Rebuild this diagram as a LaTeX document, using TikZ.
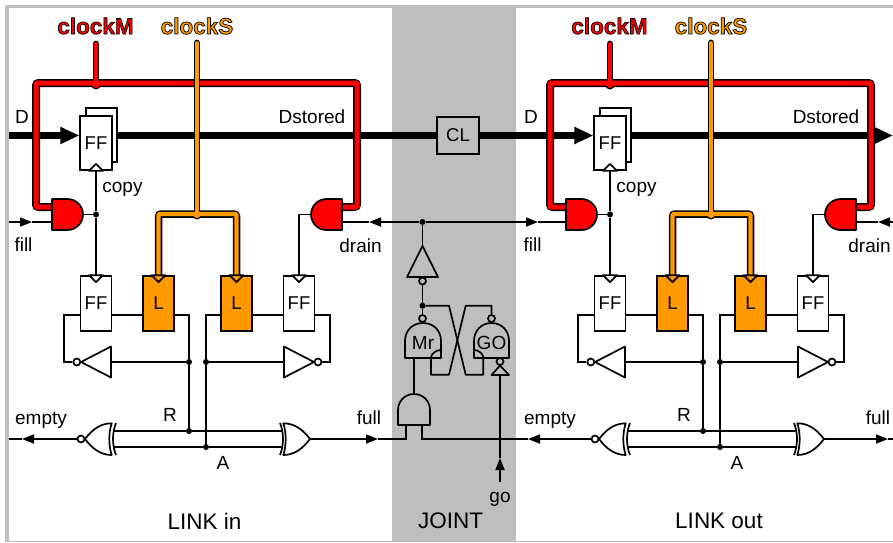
\documentclass[tikz,border=0pt]{standalone}
\usepackage{fontspec}
\setmainfont{Liberation Sans}
\usetikzlibrary{arrows.meta,calc}
\definecolor{panelgray}{HTML}{BEBEBE}
\definecolor{busorange}{HTML}{FF9900}
\pgfdeclarelayer{panel}
\pgfdeclarelayer{thick}
\pgfsetlayers{panel,thick,main}
\tikzset{
  wire/.style={draw=black,line width=1.7pt},
  gate/.style={draw=black,line width=1.7pt,line join=round},
  box/.style={draw=black,line width=1.7pt,fill=white,minimum width=31pt,minimum height=55pt,inner sep=0pt,font=\fontsize{18.5}{20}\selectfont},
  lbl/.style={inner sep=0pt,font=\fontsize{19}{21}\selectfont},
  big/.style={inner sep=0pt,font=\fontsize{22.5}{24}\selectfont},
  dot/.style={circle,fill=black,draw=none,inner sep=0pt,minimum size=6pt},
  bubble/.style={circle,draw=black,line width=1.7pt,fill=white,inner sep=0pt,minimum size=7pt},
  head/.style={-{Triangle[length=12pt,width=9pt]}},
  bigtip/.style={-{Triangle[length=19pt,width=16pt]}},
  databar/.style={draw=black,line width=7pt},
  redout/.style={draw=black,line width=8pt,rounded corners=2.5pt},
  redin/.style={draw=red,line width=5pt,rounded corners=1pt},
  orangeout/.style={draw=black,line width=7.5pt,rounded corners=2.5pt},
  orangein/.style={draw=busorange,line width=4.2pt,rounded corners=1pt},
  clk/.style={inner sep=0pt,font=\bfseries\fontsize{22.5}{26}\selectfont},
}
\newcommand{\clocktext}[1]{\special{pdf:code 0 0 0 RG 2 Tr 0.7 w}#1\special{pdf:code 0 Tr}}
% #1 prefix, #2 offset of the block, #3 offset of labels at the edges
\newcommand{\linkblock}[3]{
\begin{scope}[shift={(#2,0)}]
  % boxes
  \node[box,minimum width=31pt,minimum height=54pt] (#1-ffback) at (101.5,135) {};
  \node[box,minimum width=31.5pt,minimum height=54pt] (#1-fftop) at (96,143) {FF};
  \node[box] (#1-ffl) at (96,303.5) {FF};
  \node[box,fill=busorange] (#1-ll) at (158.5,303.5) {L};
  \node[box,fill=busorange] (#1-lr) at (236.5,303.5) {L};
  \node[box] (#1-ffr) at (299,303.5) {FF};
  \coordinate (#1-my) at (0,315);
  \coordinate (#1-iy) at (0,362);
  \coordinate (#1-ry) at (0,431);
  \coordinate (#1-ay) at (0,447);
  \coordinate (#1-oy) at (0,439);
  % red bus
  \coordinate (#1-redl) at (52,207);
  \coordinate (#1-redr) at (342,207);
  \coordinate (#1-mtop) at (96,44);
  \coordinate (#1-mj) at (96,83);
  \draw[redout] (#1-redl) -- (36,207) -- (36,83) -- (357,83) -- (357,207) -- (#1-redr);
  \draw[draw=black,line width=6.8pt,line cap=round] (#1-mtop) -- (#1-mj);
  \node[circle,fill=black,inner sep=0pt,minimum size=10pt] (#1-mdot) at (96,84.5) {};
  \draw[redin] (#1-redl) -- (36,207) -- (36,83) -- (357,83) -- (357,207) -- (#1-redr);
  \draw[draw=red,line width=3.6pt,line cap=round] (#1-mtop) -- (#1-mj);
  \fill[red] (#1-mdot) circle (3.6pt);
  % orange bus
  \coordinate (#1-stop) at (197,43);
  \coordinate (#1-sj) at (197,214);
  \coordinate (#1-sl) at ($(#1-ll.north)+(0,2)$);
  \coordinate (#1-sr) at ($(#1-lr.north)+(0,2)$);
  \draw[draw=black,line width=6.8pt,line cap=round] (#1-stop) -- (#1-sj);
  \draw[orangeout] (#1-sl) -- (158.5,214) -- (236.5,214) -- (#1-sr);
  \node[circle,fill=black,inner sep=0pt,minimum size=10pt] (#1-sdot) at (197,214.5) {};
  \draw[orangein] (#1-sl) -- (158.5,214) -- (236.5,214) -- (#1-sr);
  \draw[draw=busorange,line width=3.6pt,line cap=round] (#1-stop) -- (#1-sj);
  \fill[busorange] (#1-sdot) circle (3.6pt);
  % AND gates
  \draw[gate,fill=red] (52,199) -- (67.5,199) .. controls (76,199) and (83,206) .. (83,214.5)
     .. controls (83,223) and (76,230) .. (67.5,230) -- (52,230) -- cycle;
  \draw[gate,fill=red] (342,199) -- (326.5,199) .. controls (318,199) and (311,206) .. (311,214.5)
     .. controls (311,223) and (318,230) .. (326.5,230) -- (342,230) -- cycle;
  \coordinate (#1-fillin) at (52,222);
  \coordinate (#1-drainin) at (342,222);
  \coordinate (#1-fillout) at (83,214.5);
  \coordinate (#1-drainout) at (311,214.5);
  \node[dot] (#1-copy) at (96,214.5) {};
  % clock triangles
  \draw[wire] (#1-fillout) -- (#1-copy);
  \draw[wire] (#1-copy) -- (#1-fftop.south);
  \draw[wire] (#1-copy) -- (#1-ffl.north);
  \draw[wire] (#1-drainout) -- (#1-ffr.north |- #1-drainout) -- (#1-ffr.north);
  \draw[gate,fill=white] ($(#1-fftop.south)+(-7,0)$) -- ($(#1-fftop.south)+(0,-7)$) -- ($(#1-fftop.south)+(7,0)$) -- cycle;
  \draw[gate,fill=white] ($(#1-ffl.north)+(-7,0)$) -- ($(#1-ffl.north)+(0,7)$) -- ($(#1-ffl.north)+(7,0)$) -- cycle;
  \draw[gate,fill=white] ($(#1-ffr.north)+(-7,0)$) -- ($(#1-ffr.north)+(0,7)$) -- ($(#1-ffr.north)+(7,0)$) -- cycle;
  \draw[gate,fill=busorange] ($(#1-ll.north)+(-7,0)$) -- ($(#1-ll.north)+(0,7)$) -- ($(#1-ll.north)+(7,0)$) -- cycle;
  \draw[gate,fill=busorange] ($(#1-lr.north)+(-7,0)$) -- ($(#1-lr.north)+(0,7)$) -- ($(#1-lr.north)+(7,0)$) -- cycle;
  % inverters
  \draw[gate,fill=white] (111,346.5) -- (81,362) -- (111,377.5) -- cycle;
  \draw[gate,fill=white] (284,346.5) -- (314,362) -- (284,377.5) -- cycle;
  \node[bubble] (#1-bl) at (76.8,362) {};
  \node[bubble] (#1-br) at (318,362) {};
  \coordinate (#1-il) at (111,362);
  \coordinate (#1-ir) at (284,362);
  \node[dot] (#1-dl) at (189,362) {};
  \node[dot] (#1-dr) at (206,362) {};
  \node[dot] (#1-dR) at (189,431) {};
  \node[dot] (#1-dA) at (206,447) {};
  \draw[wire] (#1-ffl.west |- #1-my) -- (64,315) -- (64,362) -- (#1-bl);
  \draw[wire] (#1-ffl.east |- #1-my) -- (#1-ll.west |- #1-my);
  \draw[wire] (#1-ll.east |- #1-my) -- (189,315) -- (#1-dl);
  \draw[wire] (#1-dl) -- (#1-dR);
  \draw[wire] (#1-dl) -- (#1-il);
  \draw[wire] (#1-lr.west |- #1-my) -- (206,315) -- (#1-dr);
  \draw[wire] (#1-dr) -- (#1-dA);
  \draw[wire] (#1-dr) -- (#1-ir);
  \draw[wire] (#1-lr.east |- #1-my) -- (#1-ffr.west |- #1-my);
  \draw[wire] (#1-ffr.east |- #1-my) -- (330,315) -- (330,362) -- (#1-br);
  % XOR gates
  \coordinate (#1-xl) at (113,0);
  \coordinate (#1-xr) at (282.5,0);
  \draw[wire] (#1-xl |- #1-ry) -- (#1-dR) -- (#1-xr |- #1-ry);
  \draw[wire] (#1-xl |- #1-ay) -- (#1-dA) -- (#1-xr |- #1-ay);
  \draw[gate,fill=white] (111.7,423.3) .. controls (100,423.3) and (92,430) .. (85,439)
     .. controls (92,448) and (100,455) .. (111.7,455)
     .. controls (108.5,445) and (108.5,433) .. (111.7,423.3) -- cycle;
  \draw[gate] (116,423) .. controls (112,433) and (112,445) .. (116,455);
  \draw[gate,fill=white] (283.3,423.3) .. controls (295,423.3) and (303,430) .. (310,439)
     .. controls (303,448) and (295,455) .. (283.3,455)
     .. controls (286.5,445) and (286.5,433) .. (283.3,423.3) -- cycle;
  \draw[gate] (280,423) .. controls (284,433) and (284,445) .. (280,455);
  \node[bubble] (#1-bx) at (81,439) {};
  \coordinate (#1-xout) at (310,439);
  % labels
  \node[lbl] (#1-ldst) at (312,116.5) {Dstored};
  \node[lbl] (#1-lcopy) at (122.5,189.5) {copy};
  \node[lbl] (#1-lR) at (170,415) {R};
  \node[lbl] (#1-lA) at (223,463) {A};
  \node[clk,text=red] (#1-lm) at (95.5,26) {\clocktext{clockM}};
  \node[clk,text=busorange] (#1-ls) at (197,26) {\clocktext{clockS}};
\end{scope}
\begin{scope}[shift={(#3,0)}]
  \node[lbl] (#1-lD) at (22,116.5) {D};
  \node[lbl] (#1-lfill) at (23.5,245) {fill};
  \node[lbl] (#1-ldrain) at (360.5,245.5) {drain};
  \node[lbl] (#1-lempty) at (41,420.5) {empty};
  \node[lbl] (#1-lfull) at (369,418) {full};
\end{scope}
}
\begin{document}
\begin{tikzpicture}[x=1pt,y=-1pt]
\useasboundingbox (0,0) rectangle (893,542);
\clip (0,0) rectangle (893,542);
\begin{pgfonlayer}{panel}
  \fill[white] (0,0) rectangle (893,542);
  \fill[panelgray] (5,4.5) rectangle (893,542);
  \fill[white] (9.2,8.3) rectangle (893,540.7);
  \fill[panelgray] (391.5,8) rectangle (516,541);
\end{pgfonlayer}

\linkblock{a}{0}{0}
\linkblock{b}{514}{509}

% joint
\node[draw=black,line width=1.7pt,fill=panelgray,minimum width=42pt,minimum height=37pt,inner sep=0pt,font=\fontsize{18.5}{20}\selectfont] (cl) at (458,135.5) {CL};
\coordinate (din) at (9,135.5);
\coordinate (dend) at (893,135.5);
\begin{pgfonlayer}{thick}
  \draw[databar,bigtip] (din) -- (a-fftop.west |- din);
  \draw[databar] (a-ffback.east |- din) -- (cl.west |- din);
  \draw[databar,bigtip] (cl.east |- din) -- (b-fftop.west |- din);
  \draw[databar,bigtip] (b-ffback.east |- din) -- (dend);
\end{pgfonlayer}

% AND below the Muller pair
\draw[gate] (398,425) -- (398,410) .. controls (398,401) and (405,394) .. (414,394)
   .. controls (423,394) and (430,401) .. (430,410) -- (430,425) -- cycle;
\coordinate (andtop) at (414,394);
\coordinate (andl) at (406,425);
\coordinate (andr) at (422,425);
% Mr and GO
\draw[gate] (405,358) -- (405,341) .. controls (405,331) and (412,323) .. (423,323)
   .. controls (434,323) and (441,331) .. (441,341) -- (441,358) -- cycle;
\draw[gate] (431,357.5) .. controls (431,354) and (436,350) .. (440.5,350);
\draw[gate] (474,358) -- (474,341) .. controls (474,331) and (481,323) .. (491.5,323)
   .. controls (502,323) and (509,331) .. (509,341) -- (509,358) -- cycle;
\draw[gate] (483.3,357.5) .. controls (483.3,354) and (478.5,350) .. (474.5,350);
\node[lbl] (mr) at (423,343) {Mr};
\node[lbl] (go) at (491.5,343) {GO};
\node[bubble,fill=panelgray] (bm) at (422.5,318.5) {};
\node[bubble,fill=panelgray] (bg) at (491.5,318.5) {};
\node[bubble,fill=panelgray] (bgo) at (500,361.5) {};
\node[dot] (jtop) at (422.5,222) {};
\node[dot] (jm) at (422.5,305.7) {};
% inverter
\draw[gate] (422.5,246) -- (438,277) -- (407,277) -- cycle;
\node[bubble,fill=panelgray] (binv) at (422.5,281) {};
\coordinate (invtop) at (422.5,246);
\draw[wire] (jtop) -- (invtop);
\draw[wire] (binv) -- (jm);
\draw[wire] (jm) -- (bm);
% go inverter
\draw[gate] (500,365.5) -- (509,375) -- (491.5,375) -- cycle;
\coordinate (goin) at (500,375);
\coordinate (gostart) at (500,482);
\coordinate (gotip) at (500,458);
\draw[wire,head] (gostart) -- (gotip);
\draw[wire] (gotip) -- (goin);
\node[lbl] (lgo) at (500,499) {go};
% cross coupling
\draw[wire,line join=round] (jm) -- (449,305.7) -- (465.7,374.7) -- (483.3,374.7) -- (483.3,358);
\draw[wire,line join=round] (431,358) -- (431,374.7) -- (449,374.7) -- (465.7,305.7) -- (491.5,305.7) -- (bg);
\draw[wire] (414,358) -- (andtop);
% fill / drain line
\coordinate (afillstart) at (9,222);
\coordinate (afilltip) at (32,222);
\draw[wire,head] (afillstart) -- (afilltip);
\draw[wire] (afilltip) -- (a-fillin);
\coordinate (adraintip) at (369,222);
\draw[wire,head] (jtop) -- (adraintip);
\draw[wire] (adraintip) -- (a-drainin);
\coordinate (bfilltip) at (538,222);
\draw[wire,head] (jtop) -- (bfilltip);
\draw[wire] (bfilltip) -- (b-fillin);
\coordinate (bdrainstart) at (893,222);
\coordinate (bdraintip) at (878,222);
\draw[wire,head] (bdrainstart) -- (bdraintip);
\draw[wire] (bdraintip) -- (b-drainin);
% full / empty
\coordinate (aemptyend) at (9,439);
\coordinate (aemptytip) at (22,439);
\draw[wire,head] (a-bx) -- (aemptytip);
\draw[wire] (aemptytip) -- (aemptyend);
\coordinate (afulltip) at (378,439);
\draw[wire,head] (a-xout) -- (afulltip);
\draw[wire] (afulltip) -- (406,439) -- (andl);
\coordinate (bemptytip) at (528,439);
\draw[wire,head] (b-bx) -- (bemptytip);
\draw[wire] (bemptytip) -- (422,439) -- (andr);
\coordinate (bfulltip) at (888,439);
\coordinate (bfullend) at (893,439);
\draw[wire,head] (b-xout) -- (bfulltip);
\draw[wire] (bfulltip) -- (bfullend);
% titles
\node[big] (tin) at (204.5,521) {LINK in};
\node[big] (tj) at (450.5,521) {JOINT};
\node[big] (tout) at (719,521) {LINK out};
\end{tikzpicture}
\end{document}
